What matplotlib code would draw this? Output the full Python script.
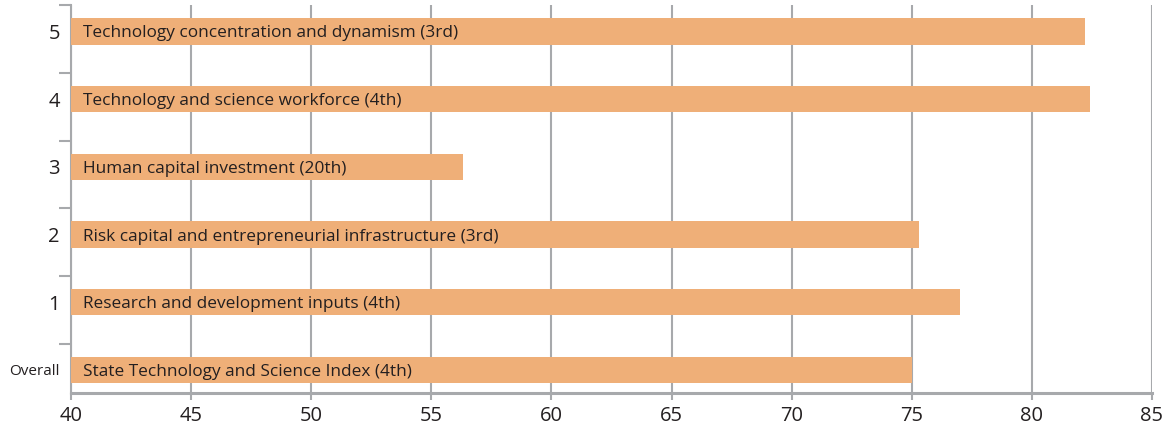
import matplotlib
matplotlib.use('Agg')
import matplotlib.pyplot as plt

categories = ["Overall", "1", "2", "3", "4", "5"]
labels = [
    "State Technology and Science Index (4th)",
    "Research and development inputs (4th)",
    "Risk capital and entrepreneurial infrastructure (3rd)",
    "Human capital investment (20th)",
    "Technology and science workforce (4th)",
    "Technology concentration and dynamism (3rd)",
]
scores = [75.0, 77.0, 75.3, 56.3, 82.4, 82.2]

bar_color = '#EFAF78'
grey = '#A7A9AC'
text_color = '#231F20'
plt.rcParams['font.family'] = ['Open Sans', 'DejaVu Sans']

fig = plt.figure(figsize=(11.7, 4.36), dpi=100)
ax = fig.add_axes([0.0607, 0.0986, 0.9239, 0.8899])

ypos = list(range(len(categories)))
ax.barh(ypos, [s - 40 for s in scores], left=40, height=0.39, color=bar_color, zorder=3)
for y, lab in zip(ypos, labels):
    ax.text(40.48, y, lab, va='center_baseline', ha='left', fontsize=12.4,
            color=text_color, zorder=4)

ax.set_xlim(40, 85)
ax.set_ylim(-0.34, 5.39)
ax.set_xticks(range(40, 86, 5))
ax.tick_params(axis='x', direction='out', length=5, width=1.5, color=grey,
               labelsize=14.5, labelcolor=text_color, pad=4)
ax.grid(axis='x', color=grey, linewidth=1.5, zorder=0)

ax.set_yticks(ypos)
ax.set_yticklabels(categories)
ax.tick_params(axis='y', which='major', length=0, pad=8, labelsize=14.5, labelcolor=text_color)
ax.get_yticklabels()[0].set_fontsize(11)
ax.set_yticks([i + 0.388 for i in range(6)], minor=True)
ax.tick_params(axis='y', which='minor', direction='out', length=8.5, width=1.5, color=grey)

for side in ['top', 'right']:
    ax.spines[side].set_visible(False)
ax.spines['left'].set_color(grey)
ax.spines['left'].set_linewidth(1.5)
ax.spines['bottom'].set_color(grey)
ax.spines['bottom'].set_linewidth(2.2)

fig.savefig('out.png', dpi=100)
